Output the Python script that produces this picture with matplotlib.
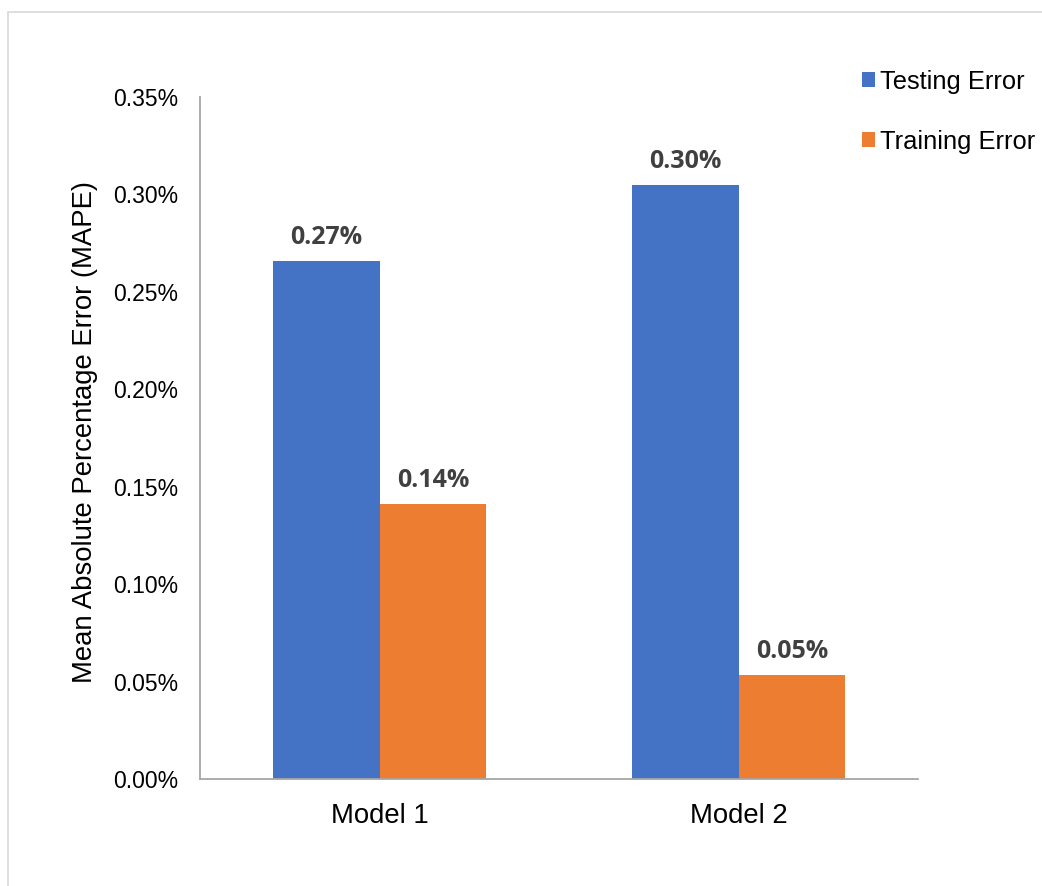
import numpy as np
import matplotlib
matplotlib.use('Agg')
import matplotlib.pyplot as plt
from matplotlib.patches import Rectangle
from matplotlib.ticker import FuncFormatter

# Данные
models = ['Model 1', 'Model 2']
testing_error = [0.266, 0.305]
training_error = [0.141, 0.0535]
testing_labels = ['0.27%', '0.30%']
training_labels = ['0.14%', '0.05%']

plt.rcParams['font.family'] = ['Liberation Sans', 'DejaVu Sans']

fig = plt.figure(figsize=(10.42, 8.86), dpi=100)
W, H = 1042, 886

# рамка вокруг области графика
fig.patches.append(Rectangle((8 / W, -0.1), 1.2, 1.1 - 12 / H, transform=fig.transFigure,
                             fill=False, edgecolor='#d9d9d9', linewidth=1.2))

ax = fig.add_axes([200 / W, (H - 779) / H, 718 / W, 682 / H])

x = np.arange(len(models))
w = 0.298
blue = '#4472c4'
orange = '#ed7d31'
b1 = ax.bar(x - w / 2, testing_error, w, color=blue, label='Testing Error')
b2 = ax.bar(x + w / 2, training_error, w, color=orange, label='Training Error')

for bars, labels in ((b1, testing_labels), (b2, training_labels)):
    for bar, lab in zip(bars, labels):
        ax.annotate(lab, (bar.get_x() + bar.get_width() / 2, bar.get_height()),
                    xytext=(0, 8), textcoords='offset points', ha='center', va='bottom',
                    fontsize=18, fontweight='bold', color='#404040',
                    family=['Open Sans', 'DejaVu Sans'])

ax.set_xlim(-0.5, 1.5)
ax.set_ylim(0, 0.35)
ax.set_yticks(np.arange(0, 0.351, 0.05))
ax.yaxis.set_major_formatter(FuncFormatter(lambda v, p: f'{v:.2f}%'))
ax.set_xticks(x)
ax.set_xticklabels(models, fontsize=19.8)
ax.tick_params(axis='y', labelsize=16.5, length=0, pad=15.5)
ax.tick_params(axis='x', length=0, pad=17)

for s in ('top', 'right'):
    ax.spines[s].set_visible(False)
for s in ('left', 'bottom'):
    ax.spines[s].set_color('#a6a6a6')
    ax.spines[s].set_linewidth(1.3)

ax.set_ylabel('Mean Absolute Percentage Error (MAPE)', fontsize=19.8)
ax.yaxis.set_label_coords(-0.142, 0.509)

ax.legend(loc='upper left', bbox_to_anchor=(849 / W, 1 - 57 / H), bbox_transform=fig.transFigure,
          frameon=False, fontsize=18.4, handlelength=0.5, handleheight=0.5, handletextpad=0.2,
          labelspacing=1.4, borderpad=0)

fig.savefig('out.png', dpi=100)
